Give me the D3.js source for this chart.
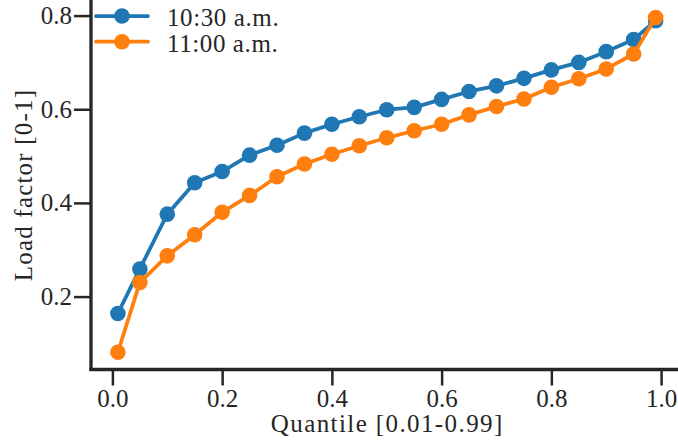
<!DOCTYPE html>
<html>
<head>
<meta charset="utf-8">
<script src="https://cdn.jsdelivr.net/npm/d3@7"></script>
<style>
  html, body { margin: 0; padding: 0; background: #fff; }
  svg { display: block; }
  svg text { font-family: "Liberation Serif"; fill: #262626; }
</style>
</head>
<body>
<svg id="chart" width="678" height="443"></svg>
<script>
const quantiles = [0.01, 0.05, 0.10, 0.15, 0.20, 0.25, 0.30, 0.35, 0.40, 0.45, 0.50,
                   0.55, 0.60, 0.65, 0.70, 0.75, 0.80, 0.85, 0.90, 0.95, 0.99];
const load1030 = [0.164, 0.259, 0.376, 0.443, 0.467, 0.502, 0.523, 0.549, 0.568, 0.584, 0.599,
                  0.604, 0.621, 0.638, 0.650, 0.666, 0.684, 0.700, 0.723, 0.749, 0.789];
const load1100 = [0.081, 0.230, 0.287, 0.332, 0.380, 0.416, 0.456, 0.483, 0.504, 0.522, 0.539,
                  0.554, 0.568, 0.588, 0.606, 0.622, 0.647, 0.665, 0.686, 0.718, 0.796];
const seriesNames = ["10:30 a.m.", "11:00 a.m."];
const seriesColors = ["#1f77b4", "#ff7f0e"];
const xTicks = [0.0, 0.2, 0.4, 0.6, 0.8, 1.0];
const yTicks = [0.2, 0.4, 0.6, 0.8];
const xLabel = "Quantile [0.01-0.99]";
const yLabel = "Load factor [0-1]";

(function () {
const svg = d3.select("#chart");
const pLeft = 91, pBottom = 369.5, pRight = 682.5, pTop = 1.2;
const x = d3.scaleLinear().domain([-0.039, 1.039]).range([pLeft, pRight]);
const y = d3.scaleLinear().domain([0.0443, 0.8307]).range([pBottom, pTop]);
const ink = "#262626";
const fs = 25;
const ff = "Liberation Serif";

// Axes (ticks + labels)
const xAxis = d3.axisBottom(x).tickValues(xTicks).tickFormat(d3.format(".1f"))
  .tickSize(16).tickPadding(4);
const yAxis = d3.axisLeft(y).tickValues(yTicks).tickFormat(d3.format(".1f"))
  .tickSize(17).tickPadding(2);

const gx = svg.append("g").attr("transform", `translate(0,${pBottom})`).call(xAxis);
const gy = svg.append("g").attr("transform", `translate(${pLeft},0)`).call(yAxis);
[gx, gy].forEach(g => {
  g.attr("font-family", ff).attr("font-size", fs);
  g.select(".domain").remove();
  g.selectAll(".tick line").attr("stroke", ink).attr("stroke-width", 2.5);
  g.selectAll(".tick text").attr("fill", ink).attr("font-family", ff).attr("font-size", fs);
});

// Spines
svg.append("line").attr("x1", pLeft).attr("x2", pLeft).attr("y1", 0).attr("y2", pBottom + 1.6)
  .attr("stroke", ink).attr("stroke-width", 3.3);
svg.append("line").attr("x1", pLeft - 1.6).attr("x2", 678).attr("y1", pBottom).attr("y2", pBottom)
  .attr("stroke", ink).attr("stroke-width", 3.3);

// Axis labels
svg.append("text").attr("x", (pLeft + pRight) / 2 + 0.5).attr("y", 432)
  .attr("text-anchor", "middle").attr("font-family", ff).attr("font-size", fs)
  .style("letter-spacing", "1.4px").text(xLabel);
svg.append("text").attr("transform", "translate(31.5,185) rotate(-90)")
  .attr("text-anchor", "middle").attr("font-family", ff).attr("font-size", fs)
  .style("letter-spacing", "1.2px").text(yLabel);

// Series
const series = [load1030, load1100];
const line = d3.line().x(d => x(d[0])).y(d => y(d[1]));
series.forEach((vals, i) => {
  const pts = quantiles.map((q, j) => [q, vals[j]]);
  const g = svg.append("g");
  g.append("path").datum(pts).attr("d", line).attr("fill", "none")
    .attr("stroke", seriesColors[i]).attr("stroke-width", 3.75)
    .attr("stroke-linejoin", "round").attr("stroke-linecap", "round");
  g.selectAll("circle").data(pts).join("circle")
    .attr("cx", d => x(d[0])).attr("cy", d => y(d[1])).attr("r", 7.8)
    .attr("fill", seriesColors[i]);
});

// Legend
const legendRows = [16, 41.7];
seriesNames.forEach((name, i) => {
  const g = svg.append("g").attr("transform", `translate(0,${legendRows[i]})`);
  g.append("line").attr("x1", 96).attr("x2", 148).attr("y1", 0).attr("y2", 0)
    .attr("stroke", seriesColors[i]).attr("stroke-width", 3.75).attr("stroke-linecap", "round");
  g.append("circle").attr("cx", 122).attr("cy", 0).attr("r", 7.8).attr("fill", seriesColors[i]);
  g.append("text").attr("x", 167).attr("y", 10).attr("font-family", ff).attr("font-size", fs)
    .style("letter-spacing", "0.6px").text(name);
});
})();
</script>
</body>
</html>
